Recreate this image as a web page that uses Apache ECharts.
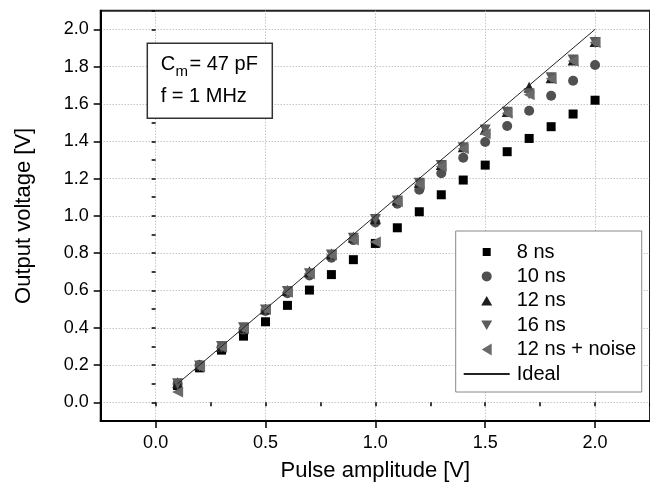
<!DOCTYPE html>
<html>
<head>
<meta charset="utf-8">
<script src="https://cdn.jsdelivr.net/npm/echarts@6/dist/echarts.min.js"></script>
<style>html,body{margin:0;padding:0;background:#fff}#c{width:650px;height:488px}</style>
</head>
<body>
<div id="c"></div>
<script>
const pulseAmplitude = [0.1,0.2,0.3,0.4,0.5,0.6,0.7,0.8,0.9,1.0,1.1,1.2,1.3,1.4,1.5,1.6,1.7,1.8,1.9,2.0];
const out8ns  = [0.09,0.185,0.28,0.355,0.432,0.52,0.602,0.685,0.765,0.852,0.936,1.022,1.113,1.192,1.272,1.344,1.415,1.478,1.546,1.62];
const out10ns = [0.1,0.2,0.295,0.39,0.49,0.585,0.68,0.775,0.87,0.965,1.065,1.14,1.228,1.312,1.396,1.482,1.564,1.644,1.724,1.809];
const out12ns = [0.105,0.2,0.3,0.4,0.5,0.6,0.7,0.795,0.885,0.985,1.085,1.18,1.275,1.37,1.465,1.56,1.69,1.74,1.835,1.935];
const out16ns = [0.1,0.195,0.3,0.4,0.495,0.595,0.69,0.79,0.88,0.98,1.08,1.175,1.27,1.365,1.46,1.555,1.655,1.74,1.835,1.93];
const out12nsNoise = [0.055,0.19,0.295,0.395,0.5,0.59,0.69,0.79,0.87,0.86,1.075,1.17,1.265,1.36,1.44,1.55,1.65,1.735,1.83,1.93];
const idealX = [0.1, 2.0];
const idealY = [0.1, 2.0];
const xMajorTicks = [0.0,0.5,1.0,1.5,2.0];
const yMajorTicks = [0.0,0.2,0.4,0.6,0.8,1.0,1.2,1.4,1.6,1.8,2.0];
const seriesNames = ['8 ns','10 ns','12 ns','16 ns','12 ns + noise','Ideal'];

const FONT = 'Liberation Sans';
const pairs = (xs, ys) => xs.map((x, i) => [x, ys[i]]);

const chart = echarts.init(document.getElementById('c'), null, {renderer: 'canvas'});

const gridDef = {left: 100.7, top: 10.7, right: -7.3, bottom: 67, show: true, borderColor: '#222', borderWidth: 2, backgroundColor: 'transparent'};

const majorX = {
  type: 'value', min: -0.25, max: 2.25, position: 'bottom',
  name: 'Pulse amplitude [V]', nameLocation: 'middle', nameGap: 39,
  nameTextStyle: {fontFamily: FONT, fontSize: 22, color: '#000'},
  axisLine: {show: true, onZero: false, lineStyle: {color: '#000', width: 2}},
  axisTick: {show: true, inside: false, length: 7, customValues: xMajorTicks, lineStyle: {color: '#000', width: 1.5}},
  axisLabel: {show: true, customValues: xMajorTicks, margin: 13, fontFamily: FONT, fontSize: 18, color: '#000', formatter: v => v.toFixed(1)},
  splitLine: {show: true, lineStyle: {color: '#aaa', width: 1, type: [1, 2]}}
};
const minorX = {
  type: 'value', min: -0.25, max: 2.25, interval: 0.25, position: 'bottom',
  axisLine: {show: false}, axisLabel: {show: false}, splitLine: {show: false},
  axisTick: {show: true, length: 4, lineStyle: {color: '#000', width: 1.5}}
};
const majorY = {
  type: 'value', min: -0.1, max: 2.1, position: 'left',
  name: 'Output voltage [V]', nameLocation: 'middle', nameGap: 66,
  nameTextStyle: {fontFamily: FONT, fontSize: 22, color: '#000'},
  axisLine: {show: true, onZero: false, lineStyle: {color: '#000', width: 2}},
  axisTick: {show: true, length: 7, customValues: yMajorTicks, lineStyle: {color: '#000', width: 1.5}},
  axisLabel: {show: true, customValues: yMajorTicks, margin: 12, fontFamily: FONT, fontSize: 18, color: '#000', formatter: v => v.toFixed(1)},
  splitLine: {show: true, lineStyle: {color: '#aaa', width: 1, type: [1, 2]}}
};
const minorY = {
  type: 'value', min: -0.1, max: 2.1, interval: 0.1, position: 'left',
  axisLine: {show: false}, axisLabel: {show: false}, splitLine: {show: false},
  axisTick: {show: true, length: 4, lineStyle: {color: '#000', width: 1.5}}
};

function scatter(name, ys, symbol, rotate, color, size) {
  return {
    name, type: 'scatter', xAxisIndex: 0, yAxisIndex: 0,
    data: pairs(pulseAmplitude, ys), symbol, symbolRotate: rotate, symbolSize: size,
    itemStyle: {color, opacity: 1}, emphasis: {disabled: true}, animation: false
  };
}

// legend icon paths inside a fixed 14x14 box (degenerate corner segments fix the extent)
const box = 'M0 0L0 0M14 14L14 14';
const legendIcons = {
  square: 'path://' + box + 'M3 3L11 3L11 11L3 11Z',
  circle: 'path://' + box + 'M7 2A5 5 0 1 1 7 12A5 5 0 1 1 7 2Z',
  up: 'path://' + box + 'M7 2.25L12.5 11.75L1.5 11.75Z',
  down: 'path://' + box + 'M1.5 2.25L12.5 2.25L7 11.75Z',
  left: 'path://' + box + 'M2 7L12 1L12 13Z'
};

const option = {
  animation: false,
  backgroundColor: '#fff',
  grid: gridDef,
  xAxis: [majorX, minorX],
  yAxis: [majorY, minorY],
  legend: {
    orient: 'vertical', left: 455.7, top: 231,
    padding: [11, 5.5, 8, 7], borderColor: '#888', borderWidth: 1, backgroundColor: '#fff',
    itemWidth: 46, itemHeight: 14, itemGap: 4.4, symbolKeepAspect: true, iconRotate: 0,
    textStyle: {fontFamily: FONT, fontSize: 20, color: '#000', padding: [0, 0, 0, 2]},
    data: [
      {name: seriesNames[0], icon: legendIcons.square},
      {name: seriesNames[1], icon: legendIcons.circle},
      {name: seriesNames[2], icon: legendIcons.up},
      {name: seriesNames[3], icon: legendIcons.down},
      {name: seriesNames[4], icon: legendIcons.left},
      {name: seriesNames[5], itemStyle: {color: 'rgba(0,0,0,0)', borderWidth: 0}}
    ],
    selectedMode: false
  },
  series: [
    scatter(seriesNames[0], out8ns, 'rect', 0, '#000000', 9),
    scatter(seriesNames[1], out10ns, 'circle', 0, '#505050', 10),
    scatter(seriesNames[2], out12ns, 'triangle', 0, '#1e1e1e', 11),
    scatter(seriesNames[3], out16ns, 'triangle', 180, '#5c5c5c', 11),
    scatter(seriesNames[4], out12nsNoise, 'triangle', 90, '#6a6a6a', 11),
    {
      name: seriesNames[5], type: 'line', xAxisIndex: 0, yAxisIndex: 0,
      data: pairs(idealX, idealY), showSymbol: false, symbol: 'none',
      lineStyle: {color: '#222', width: 1}, itemStyle: {color: '#222'}, z: 5, emphasis: {disabled: true}
    }
  ],
  graphic: [
    {type: 'rect', shape: {x: 147.3, y: 43.3, width: 125, height: 75}, style: {fill: '#fff', stroke: '#333', lineWidth: 1.5}, z: 10},
    {type: 'text', x: 160.7, y: 64, style: {text: 'C', font: '20px "Liberation Sans"', fill: '#000', verticalAlign: 'middle'}, z: 11},
    {type: 'text', x: 175.5, y: 71.5, style: {text: 'm', font: '15px "Liberation Sans"', fill: '#000', verticalAlign: 'middle'}, z: 11},
    {type: 'text', x: 189.5, y: 64, style: {text: '= 47 pF', font: '20px "Liberation Sans"', fill: '#000', verticalAlign: 'middle'}, z: 11},
    {type: 'text', x: 160.7, y: 96, style: {text: 'f = 1 MHz', font: '20px "Liberation Sans"', fill: '#000', verticalAlign: 'middle'}, z: 11}
  ]
};
chart.setOption(option);
</script>
</body>
</html>
